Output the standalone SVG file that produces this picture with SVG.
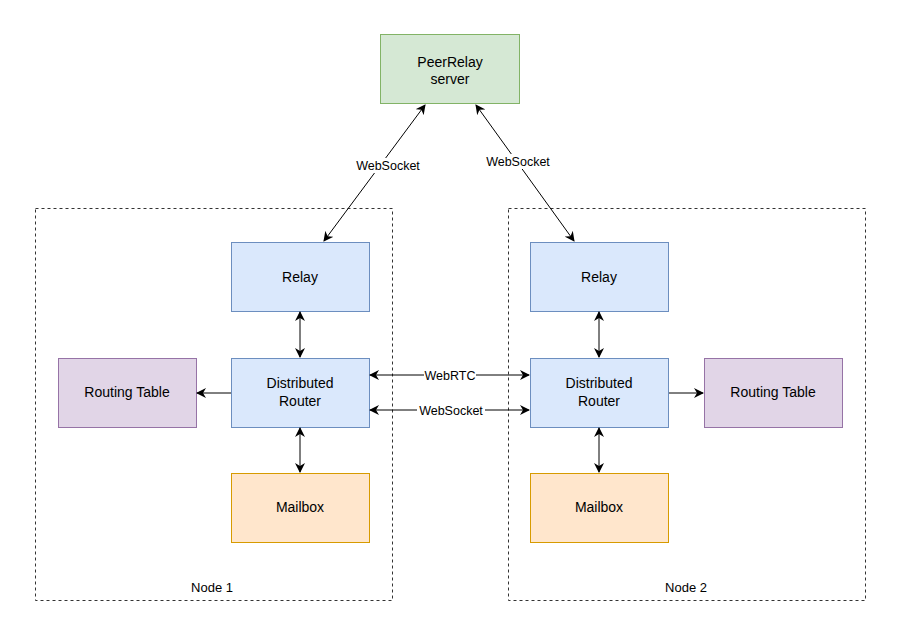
<svg xmlns="http://www.w3.org/2000/svg" width="900" height="635" viewBox="0 0 900 635">
<style>
text{font-family:"Liberation Sans",Arial,sans-serif;font-size:14px;fill:#000;text-anchor:middle}
text.e{font-size:12.5px}
text.n{font-size:13px}
.blue{fill:#dae8fc;stroke:#6c8ebf}
.green{fill:#d5e8d4;stroke:#82b366}
.purple{fill:#e1d5e7;stroke:#9673a6}
.orange{fill:#ffe6cc;stroke:#d79b00}
.cont{fill:none;stroke:#333;stroke-dasharray:3 3}
.c{fill:none;stroke:#000;stroke-width:1}
.lbl{fill:#fff}
</style>
<defs>
<marker id="a" viewBox="0 0 10 10" refX="9" refY="5" markerWidth="10" markerHeight="10" markerUnits="userSpaceOnUse" orient="auto-start-reverse">
<path d="M0,0 L10,5 L0,10 L3,5 Z" fill="#000"/>
</marker>
</defs>
<rect width="900" height="635" fill="#fff"/>
<g id="node1">
<rect class="cont" x="35.5" y="208.5" width="357" height="392"/>
<text class="n" x="212" y="592">Node 1</text>
</g>
<g id="node2">
<rect class="cont" x="508.5" y="208.5" width="357" height="392"/>
<text class="n" x="686" y="592">Node 2</text>
</g>
<g id="server">
<rect class="green" x="380.5" y="34.5" width="139" height="69"/>
<text x="450" y="67">PeerRelay</text>
<text x="450" y="84">server</text>
</g>
<g id="relay1"><rect class="blue" x="231.5" y="242.5" width="138" height="69"/><text x="300" y="282">Relay</text></g>
<g id="router1"><rect class="blue" x="231.5" y="358.5" width="138" height="69"/><text x="300" y="388">Distributed</text><text x="300" y="406">Router</text></g>
<g id="mailbox1"><rect class="orange" x="231.5" y="473.5" width="138" height="69"/><text x="300" y="512">Mailbox</text></g>
<g id="routing1"><rect class="purple" x="58.5" y="358.5" width="138" height="69"/><text x="127" y="397">Routing Table</text></g>
<g id="relay2"><rect class="blue" x="530.5" y="242.5" width="138" height="69"/><text x="599" y="282">Relay</text></g>
<g id="router2"><rect class="blue" x="530.5" y="358.5" width="138" height="69"/><text x="599" y="388">Distributed</text><text x="599" y="406">Router</text></g>
<g id="mailbox2"><rect class="orange" x="530.5" y="473.5" width="138" height="69"/><text x="599" y="512">Mailbox</text></g>
<g id="routing2"><rect class="purple" x="704.5" y="358.5" width="138" height="69"/><text x="773" y="397">Routing Table</text></g>
<g id="connectors">
<line class="c" x1="324" y1="241" x2="425" y2="105" marker-start="url(#a)" marker-end="url(#a)"/>
<line class="c" x1="476" y1="105" x2="574" y2="241" marker-start="url(#a)" marker-end="url(#a)"/>
<line class="c" x1="300" y1="312" x2="300" y2="357" marker-start="url(#a)" marker-end="url(#a)"/>
<line class="c" x1="300" y1="428" x2="300" y2="472" marker-start="url(#a)" marker-end="url(#a)"/>
<line class="c" x1="599" y1="312" x2="599" y2="357" marker-start="url(#a)" marker-end="url(#a)"/>
<line class="c" x1="599" y1="428" x2="599" y2="472" marker-start="url(#a)" marker-end="url(#a)"/>
<line class="c" x1="231" y1="393" x2="197" y2="393" marker-end="url(#a)"/>
<line class="c" x1="669" y1="393" x2="703" y2="393" marker-end="url(#a)"/>
<line class="c" x1="370" y1="375" x2="529" y2="375" marker-start="url(#a)" marker-end="url(#a)"/>
<line class="c" x1="370" y1="410" x2="529" y2="410" marker-start="url(#a)" marker-end="url(#a)"/>
<rect class="lbl" x="354" y="158" width="68" height="15"/>
<text class="e" x="388" y="170">WebSocket</text>
<rect class="lbl" x="484" y="154" width="68" height="15"/>
<text class="e" x="518" y="166">WebSocket</text>
<rect class="lbl" x="424" y="368" width="52" height="15"/>
<text class="e" x="450" y="380">WebRTC</text>
<rect class="lbl" x="417" y="403" width="68" height="15"/>
<text class="e" x="451" y="415">WebSocket</text>
</g>
</svg>
